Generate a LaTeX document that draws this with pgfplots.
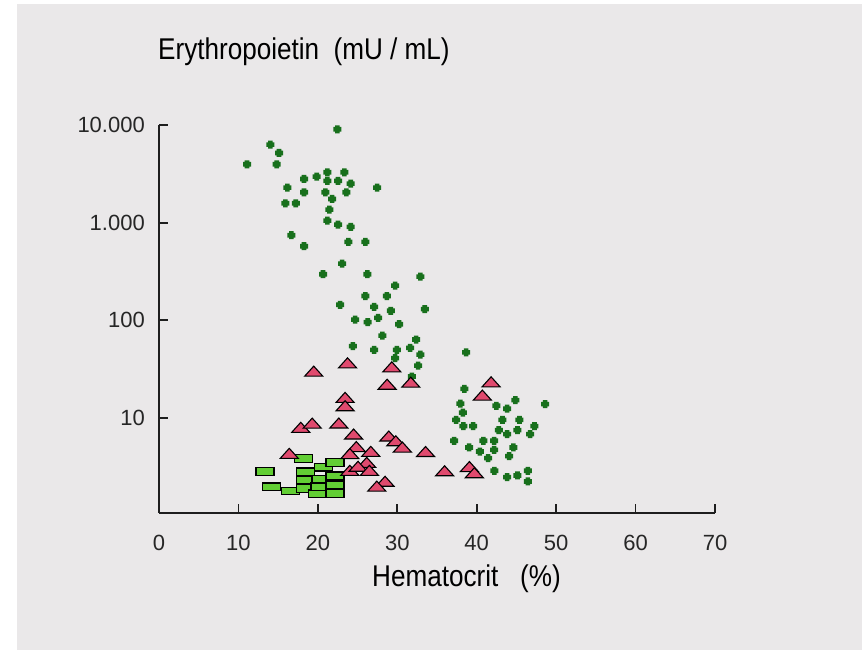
\documentclass[border=0pt]{standalone}
\usepackage{fontspec}
\setmainfont{Liberation Sans}
\usepackage{graphicx}
\usepackage{pgfplots}
\pgfplotsset{compat=1.18}
\definecolor{bgc}{RGB}{234,232,233}
\definecolor{dgreen}{RGB}{24,112,28}
\definecolor{lgreen}{RGB}{98,206,52}
\definecolor{tpink}{RGB}{224,74,110}
\definecolor{axc}{RGB}{30,30,30}
\pgfdeclareplotmark{gdot}{%
  \pgfpathrectangle{\pgfqpoint{-4pt}{-2.3pt}}{\pgfqpoint{8pt}{4.6pt}}%
  \pgfpathrectangle{\pgfqpoint{-2.3pt}{-4pt}}{\pgfqpoint{4.6pt}{8pt}}%
  \pgfusepathqfill}
\pgfdeclareplotmark{ptri}{%
  \pgfpathmoveto{\pgfqpoint{-9pt}{-5pt}}%
  \pgfpathlineto{\pgfqpoint{9pt}{-5pt}}%
  \pgfpathlineto{\pgfqpoint{0pt}{5pt}}%
  \pgfpathclose
  \pgfusepathqfillstroke}
\pgfdeclareplotmark{grect}{%
  \pgfpathrectangle{\pgfqpoint{-9pt}{-3.8pt}}{\pgfqpoint{18pt}{7.6pt}}%
  \pgfusepathqfillstroke}

\begin{document}
\begin{tikzpicture}
\path[use as bounding box] (0pt,0pt) rectangle (867pt,650pt);
\fill[white] (0pt,0pt) rectangle (867pt,650pt);
\fill[bgc] (17pt,0pt) rectangle (862pt,646pt);
\node[anchor=base west, inner sep=0pt] at (158pt,590pt) {\fontsize{30}{36}\selectfont\scalebox{0.87}[1]{Erythropoietin\ \ (mU / mL)}};
\node[anchor=base west, inner sep=0pt] at (372pt,63pt) {\fontsize{30}{36}\selectfont\scalebox{0.87}[1]{Hematocrit\ \ \ (\%)}};
\begin{axis}[
  at={(159pt,137pt)}, anchor=south west,
  scale only axis, width=556pt, height=388pt,
  xmin=0, xmax=70, ymin=1.06, ymax=10000, ymode=log,
  axis lines=left,
  axis line style={-, line width=2pt, color=axc},
  xtick={0,10,20,30,40,50,60,70},
  xticklabels={0,10,20,30,40,50,60,70},
  ytick={10,100,1000,10000},
  yticklabels={10,100,1.000,10.000},
  yminorticks=false, xminorticks=false,
  tick align=inside, major tick length=9pt,
  tick style={line width=1.8pt, color=axc},
  ticklabel style={font=\fontsize{22}{26}\selectfont, text=black!85},
  xticklabel style={inner sep=0pt, anchor=north, yshift=-22pt},
  yticklabel style={inner sep=0pt, anchor=east, xshift=-14pt},
  clip=false,
]
\addplot[only marks, mark=gdot, color=dgreen] table {
x y
22.46 9040
14.02 6290
15.11 5170
11.08 3960
14.82 3960
21.20 3280
23.34 3280
19.86 2955
18.26 2800
21.20 2672
22.54 2672
24.14 2506
27.46 2280
16.16 2280
18.26 2046
20.94 2046
23.59 2046
21.79 1747
15.91 1578
17.22 1578
21.45 1358
21.20 1047
22.54 953
24.14 903
16.66 743
18.26 573
23.84 634
25.98 634
23.05 380
20.65 296
26.23 296
32.91 280
29.72 226
25.98 177
28.68 177
22.80 144
27.08 137
29.18 125
33.46 130
24.69 101.5
26.28 95.5
27.58 105.7
30.23 91
28.12 69.6
32.37 63.4
24.40 54.2
27.08 49.7
29.94 49.7
31.61 52.1
32.91 44.5
29.72 40.9
32.62 34.3
31.83 26.5
38.66 46.9
38.45 19.8
37.95 14.0
38.25 11.3
37.41 9.54
38.32 8.22
39.55 8.24
42.48 13.3
43.83 12.4
44.87 15.2
48.61 13.8
43.24 9.54
45.38 9.54
47.27 8.24
42.78 7.48
43.83 6.81
45.13 7.48
46.73 6.81
37.15 5.82
40.84 5.82
42.19 5.82
39.04 4.97
42.19 4.70
44.62 4.97
40.39 4.52
41.44 3.87
44.08 4.06
42.23 2.87
43.83 2.47
45.13 2.57
46.44 2.87
46.44 2.23
};
\addplot[only marks, mark=grect, draw=black, fill=lgreen, line width=1.3pt] table {
x y
13.35 2.83
14.19 1.97
16.59 1.78
18.17 3.83
18.43 2.80
18.43 2.30
18.43 1.89
19.94 1.67
20.28 1.97
20.40 2.36
20.69 3.13
22.17 3.49
22.17 2.55
22.17 2.06
22.17 1.68
};
\addplot[only marks, mark=ptri, draw=black, fill=tpink, line width=1.1pt] table {
x y
19.48 30.1
23.74 36.6
29.31 33.3
28.72 22.1
31.70 23.2
23.43 16.2
23.43 13.3
17.85 8.0
19.29 8.83
22.64 8.85
24.50 6.83
28.93 6.51
29.81 5.82
30.64 5.02
33.56 4.52
24.84 5.08
24.03 4.30
26.66 4.54
16.40 4.33
26.15 3.50
24.02 2.90
25.06 3.19
26.49 2.90
28.46 2.24
27.42 2.00
35.96 2.87
39.08 3.17
39.70 2.74
41.81 23.4
40.71 17.1
};
\end{axis}
\end{tikzpicture}
\end{document}
